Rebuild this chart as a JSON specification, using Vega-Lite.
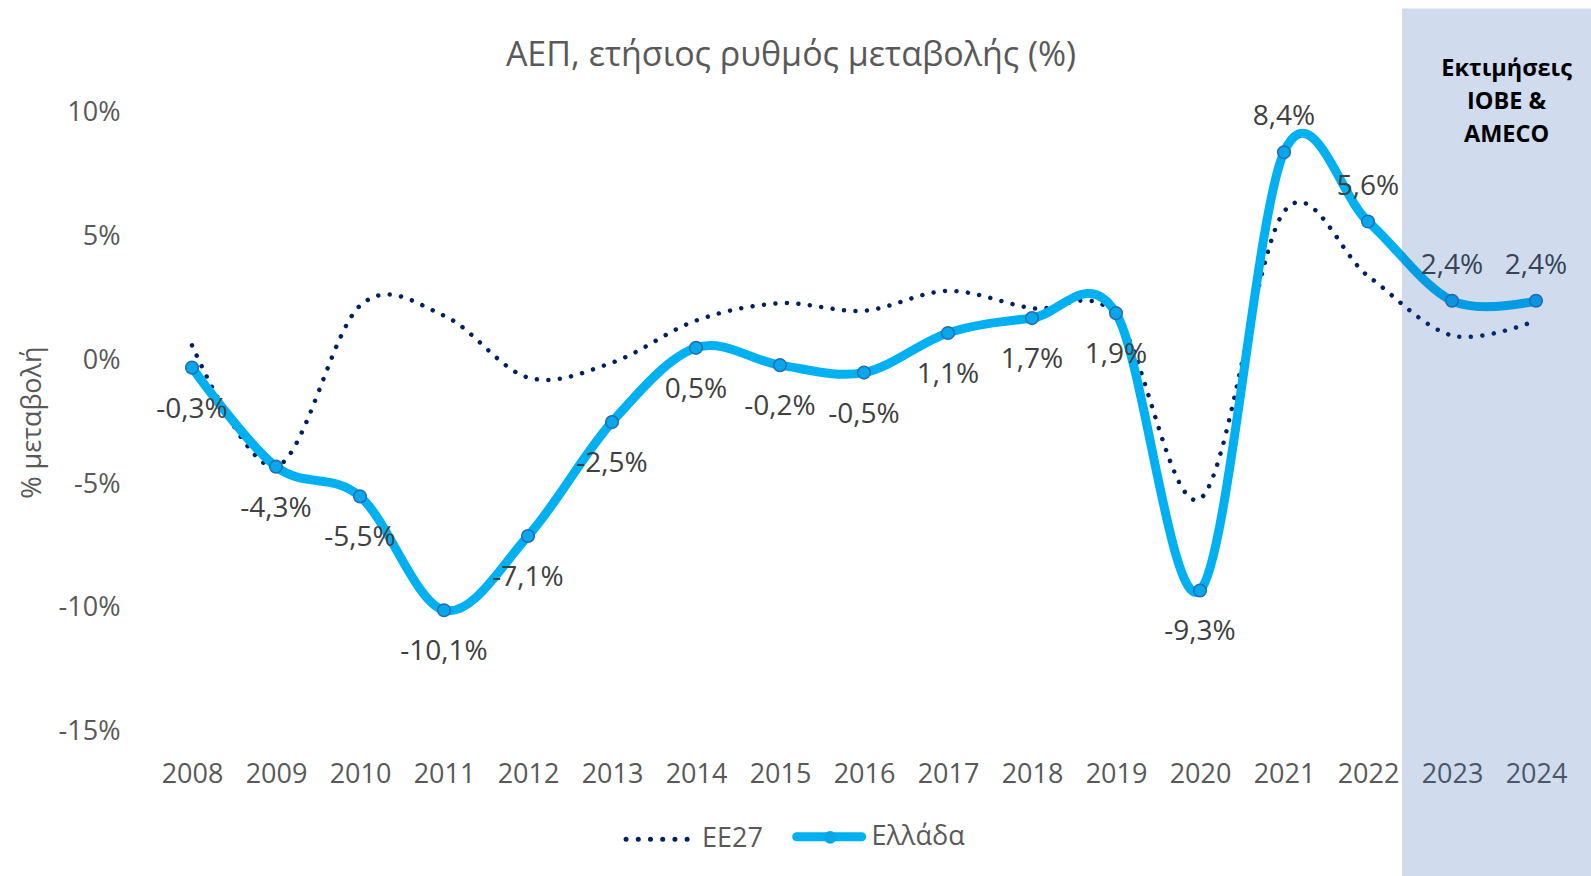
{
  "$schema": "https://vega.github.io/schema/vega-lite/v6.json",
  "width": 1428,
  "height": 619,
  "autosize": {"type": "none"},
  "padding": {"left": 150, "top": 112.6, "right": 13, "bottom": 144.4},
  "background": "white",
  "title": {"text": "ΑΕΠ, ετήσιος ρυθμός μεταβολής (%)", "fontSize": 34, "font": "Open Sans", "fontWeight": "normal", "color": "#595959", "anchor": "middle", "dx": -73, "offset": 0, "dy": 64},
  "datasets": {
    "gdp": [
      {"year": 2008, "series": "EE27", "value": 0.6},
      {"year": 2009, "series": "EE27", "value": -4.3},
      {"year": 2010, "series": "EE27", "value": 2.2},
      {"year": 2011, "series": "EE27", "value": 1.8},
      {"year": 2012, "series": "EE27", "value": -0.7},
      {"year": 2013, "series": "EE27", "value": -0.1},
      {"year": 2014, "series": "EE27", "value": 1.6},
      {"year": 2015, "series": "EE27", "value": 2.3},
      {"year": 2016, "series": "EE27", "value": 2.0},
      {"year": 2017, "series": "EE27", "value": 2.8},
      {"year": 2018, "series": "EE27", "value": 2.1},
      {"year": 2019, "series": "EE27", "value": 1.8},
      {"year": 2020, "series": "EE27", "value": -5.6},
      {"year": 2021, "series": "EE27", "value": 6.0},
      {"year": 2022, "series": "EE27", "value": 3.4},
      {"year": 2023, "series": "EE27", "value": 1.0},
      {"year": 2024, "series": "EE27", "value": 1.6},
      {"year": 2008, "series": "Ελλάδα", "value": -0.3},
      {"year": 2009, "series": "Ελλάδα", "value": -4.3},
      {"year": 2010, "series": "Ελλάδα", "value": -5.5},
      {"year": 2011, "series": "Ελλάδα", "value": -10.1},
      {"year": 2012, "series": "Ελλάδα", "value": -7.1},
      {"year": 2013, "series": "Ελλάδα", "value": -2.5},
      {"year": 2014, "series": "Ελλάδα", "value": 0.5},
      {"year": 2015, "series": "Ελλάδα", "value": -0.2},
      {"year": 2016, "series": "Ελλάδα", "value": -0.5},
      {"year": 2017, "series": "Ελλάδα", "value": 1.1},
      {"year": 2018, "series": "Ελλάδα", "value": 1.7},
      {"year": 2019, "series": "Ελλάδα", "value": 1.9},
      {"year": 2020, "series": "Ελλάδα", "value": -9.3},
      {"year": 2021, "series": "Ελλάδα", "value": 8.4},
      {"year": 2022, "series": "Ελλάδα", "value": 5.6},
      {"year": 2023, "series": "Ελλάδα", "value": 2.4},
      {"year": 2024, "series": "Ελλάδα", "value": 2.4}
    ],
    "estimate": [
      {"start": 2022.405, "end": 2024.8, "top": 14.2, "bottom": -22, "xmid": 2023.65, "ymid": 11.76, "note": "Εκτιμήσεις\nΙΟΒΕ &\nAMECO"}
    ]
  },
  "data": {"name": "gdp"},
  "encoding": {
    "x": {"field": "year", "type": "quantitative",
      "scale": {"domain": [2007.5, 2024.5], "nice": false, "zero": false},
      "axis": {"values": [2008,2009,2010,2011,2012,2013,2014,2015,2016,2017,2018,2019,2020,2021,2022,2023,2024], "format": "d", "title": null, "ticks": false, "domain": false, "grid": false, "labelFontSize": 27, "labelColor": "#595959", "labelPadding": 30, "labelFlush": false, "labelOverlap": false, "labelFont": "Open Sans"}},
    "y": {"field": "value", "type": "quantitative",
      "scale": {"domain": [-15, 10], "nice": false, "zero": false},
      "axis": {"values": [-15,-10,-5,0,5,10], "labelExpr": "datum.value + '%'", "title": "% μεταβολή", "ticks": false, "domain": false, "grid": false, "labelFontSize": 27, "labelColor": "#595959", "labelPadding": 30, "labelFont": "Open Sans", "titleFont": "Open Sans", "titleFontSize": 27, "titleColor": "#595959", "titleFontWeight": "normal", "titleX": -117.5, "titleY": 309.5, "titleAngle": 270, "titleBaseline": "middle", "titleAlign": "center"}}
  },
  "layer": [
    {
      "data": {"values": [{}]},
      "mark": {"type": "rule", "color": "#D9D9D9", "strokeWidth": 2},
      "encoding": {"x": {"datum": 2007.5}, "x2": {"datum": 2024.5}, "y": {"datum": 0}}
    },
    {
      "transform": [{"filter": "datum.series === 'EE27'"}],
      "mark": {"type": "line", "interpolate": "cardinal", "strokeWidth": 4.5, "strokeCap": "round", "strokeDash": [0.01, 11.5]},
      "encoding": {
        "color": {"field": "series", "type": "nominal",
          "scale": {"domain": ["EE27", "Ελλάδα"], "range": ["#002060", "#00B0F0"]},
          "legend": {"orient": "none", "legendX": 453.5, "legendY": 676.4, "direction": "horizontal", "title": null, "labelFontSize": 27, "labelColor": "#595959", "labelFont": "Open Sans", "labelOffset": 3.5, "columnPadding": 9.6, "symbolSize": 7396, "padding": 0,
            "encode": {"symbols": {"update": {
              "shape": {"signal": "(datum.value === 'EE27' ? 'M-0.58,0L1,0' : 'M-0.556,0L0.956,0')"},
              "strokeDash": {"signal": "(datum.value === 'EE27' ? [0.01, 12.2] : [1, 0])"},
              "strokeWidth": {"signal": "(datum.value === 'EE27' ? 5 : 9)"},
              "strokeCap": {"value": "round"},
              "fill": {"value": "transparent"}
            }}}}
        }
      }
    },
    {
      "transform": [{"filter": "datum.series === 'Ελλάδα'"}],
      "mark": {"type": "line", "interpolate": "cardinal", "strokeWidth": 9, "strokeCap": "round", "strokeJoin": "round"},
      "encoding": {
        "color": {"field": "series", "type": "nominal",
          "scale": {"domain": ["EE27", "Ελλάδα"], "range": ["#002060", "#00B0F0"]}}
      }
    },
    {
      "transform": [{"filter": "datum.series === 'Ελλάδα'"}],
      "mark": {"type": "point", "filled": true, "fill": "#0AA6EA", "stroke": "#1F6FB8", "strokeWidth": 1.5, "size": 160, "opacity": 1},
      "encoding": {
        "shape": {"field": "series", "type": "nominal",
          "scale": {"domain": ["Ελλάδα"], "range": ["circle"]},
          "legend": {"orient": "none", "legendX": 672.7, "legendY": 717.2, "title": null, "labelExpr": "''", "labelFontSize": 1, "labelOffset": 0, "symbolSize": 160, "symbolType": "circle", "symbolFillColor": "#0AA6EA", "symbolStrokeColor": "#1F6FB8", "symbolStrokeWidth": 1.5, "zindex": 2, "padding": 0,
            "encode": {"symbols": {"update": {"fill": {"value": "#0AA6EA"}, "stroke": {"value": "#1F6FB8"}, "strokeWidth": {"value": 1.5}, "opacity": {"value": 1}}}}}
        }
      }
    },
    {
      "transform": [{"filter": "datum.series === 'Ελλάδα' && datum.year <= 2020"}, {"calculate": "replace('' + datum.value, '.', ',') + '%'", "as": "label"}],
      "mark": {"type": "text", "dy": 42, "fontSize": 28, "color": "#404040", "align": "center", "baseline": "middle", "font": "Open Sans"},
      "encoding": {"text": {"field": "label", "type": "nominal"}}
    },
    {
      "transform": [{"filter": "datum.series === 'Ελλάδα' && datum.year >= 2021"}, {"calculate": "replace('' + datum.value, '.', ',') + '%'", "as": "label"}],
      "mark": {"type": "text", "dy": -35, "fontSize": 28, "color": "#404040", "align": "center", "baseline": "middle", "font": "Open Sans"},
      "encoding": {"text": {"field": "label", "type": "nominal"}}
    },
    {
      "data": {"name": "estimate"},
      "mark": {"type": "rect", "color": "#1450AA", "opacity": 0.2},
      "encoding": {"x": {"field": "start", "type": "quantitative"}, "x2": {"field": "end"}, "y": {"field": "top", "type": "quantitative"}, "y2": {"field": "bottom"}}
    },
    {
      "data": {"name": "estimate"},
      "mark": {"type": "text", "fontSize": 23.5, "fontWeight": "bold", "color": "#000000", "align": "center", "baseline": "middle", "lineBreak": "\n", "lineHeight": 33, "font": "Open Sans"},
      "encoding": {"x": {"field": "xmid", "type": "quantitative"}, "y": {"field": "ymid", "type": "quantitative"}, "text": {"field": "note", "type": "nominal"}}
    }
  ],
  "config": {"font": "Open Sans", "view": {"stroke": null}}
}
